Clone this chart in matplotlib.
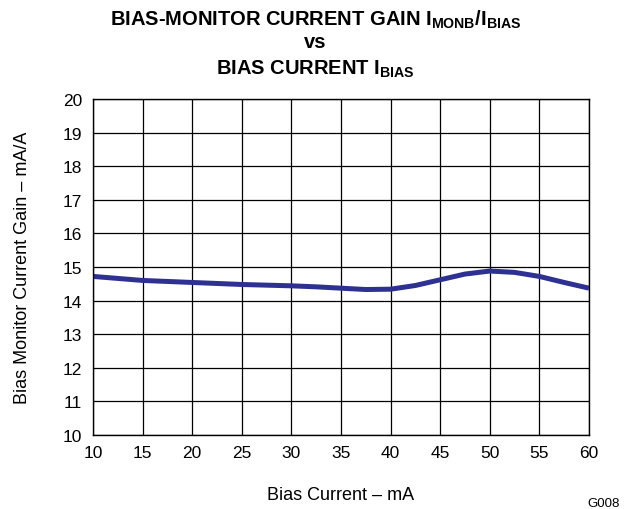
import numpy as np
import matplotlib.pyplot as plt

plt.rcParams['font.family'] = ['Liberation Sans', 'DejaVu Sans']
plt.rcParams['mathtext.fontset'] = 'custom'
plt.rcParams['mathtext.rm'] = 'Liberation Sans:bold'
plt.rcParams['mathtext.bf'] = 'Liberation Sans:bold'
plt.rcParams['mathtext.it'] = 'Liberation Sans:bold'

# Bias current (mA) vs monitor current gain (mA/A)
bias_current = [10, 12.5, 15, 17.5, 20, 22.5, 25, 27.5, 30, 32.5, 35, 37.5,
                40, 42.5, 45, 47.5, 50, 52.5, 55, 57.5, 60]
gain = [14.72, 14.66, 14.60, 14.57, 14.54, 14.51, 14.48, 14.46, 14.44, 14.41,
        14.37, 14.33, 14.34, 14.45, 14.62, 14.79, 14.88, 14.84, 14.72, 14.54, 14.37]

x_ticks = [10, 15, 20, 25, 30, 35, 40, 45, 50, 55, 60]
y_ticks = [10, 11, 12, 13, 14, 15, 16, 17, 18, 19, 20]

fig = plt.figure(figsize=(6.31, 5.10), dpi=100)
ax = fig.add_axes([0.1474, 0.145, 0.786, 0.659])

ax.plot(bias_current, gain, color='#2E3192', linewidth=3.6, solid_capstyle='butt',
        solid_joinstyle='round')

ax.set_xlim(10, 60)
ax.set_ylim(10, 20)
ax.set_xticks(x_ticks)
ax.set_yticks(y_ticks)
ax.tick_params(length=0, labelsize=12.5)
ax.tick_params(axis='x', pad=7)
ax.tick_params(axis='y', pad=8)
ax.grid(True, color='black', linewidth=0.9)
for s in ax.spines.values():
    s.set_linewidth(1.0)

# axis titles
fig.text(0.540, 0.0294, 'Bias Current – mA', ha='center', va='center', fontsize=13)
fig.text(0.035, 0.4745, 'Bias Monitor Current Gain – mA/A', ha='center', va='center',
         rotation=90, fontsize=13)

# chart title
fig.text(0.5, 0.950, r'BIAS-MONITOR CURRENT GAIN I$_{\mathrm{MONB}}$/I$_{\mathrm{BIAS}}$',
         ha='center', va='baseline', fontsize=14.5, fontweight='bold')
fig.text(0.5, 0.906, 'vs', ha='center', va='baseline', fontsize=14.5, fontweight='bold')
fig.text(0.5, 0.854, r'BIAS CURRENT I$_{\mathrm{BIAS}}$',
         ha='center', va='baseline', fontsize=14.5, fontweight='bold')

fig.text(0.9826, 0.012, 'G008', ha='right', va='center', fontsize=9.5)

fig.savefig('out.png', dpi=100)
